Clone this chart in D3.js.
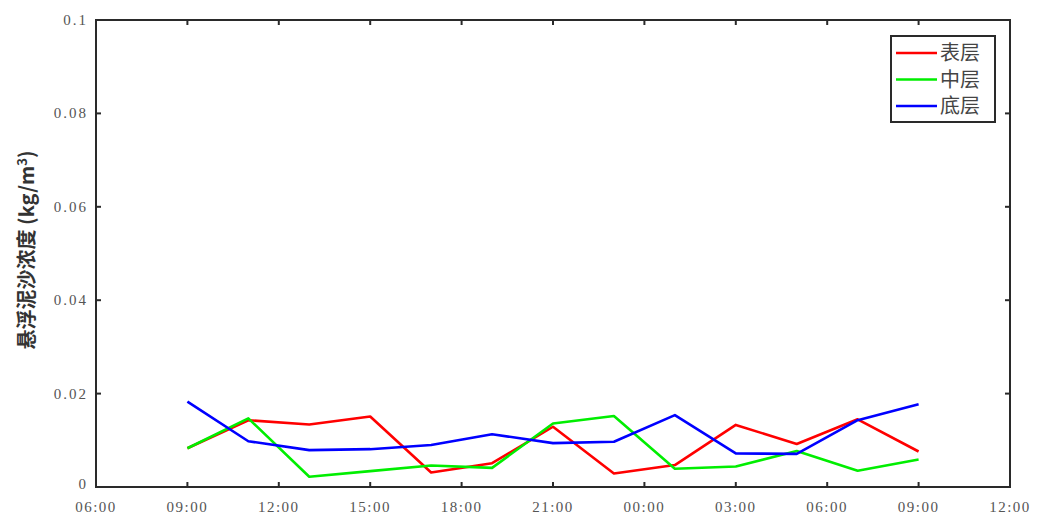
<!DOCTYPE html>
<html><head><meta charset="utf-8">
<script src="https://cdn.jsdelivr.net/npm/d3@7"></script>
<style>body{margin:0;background:#fff}svg{display:block}</style>
</head><body>
<svg id="c" width="1039" height="517"></svg>
<script>
// data (hours since 06:00 of day 1)
const hours = [3,5,7,9,11,13,15,17,19,21,23,25,27];
const surface = [0.0083,0.0143,0.0134,0.0151,0.0031,0.0051,0.0129,0.0029,0.0047,0.0133,0.0092,0.0145,0.0076];
const middle  = [0.0083,0.0147,0.0022,0.0034,0.0046,0.0041,0.0136,0.0152,0.0039,0.0044,0.0077,0.0035,0.0059];
const bottom  = [0.0183,0.0098,0.0079,0.0081,0.0090,0.0113,0.0094,0.0097,0.0154,0.0072,0.0071,0.0143,0.0177];
const xTicks = [0,3,6,9,12,15,18,21,24,27,30];
const xTickLabels = ["06:00","09:00","12:00","15:00","18:00","21:00","00:00","03:00","06:00","09:00","12:00"];
const yTicks = [0,0.02,0.04,0.06,0.08,0.1];
const yTickLabels = ["0","0.02","0.04","0.06","0.08","0.1"];
const seriesNames = ["表层","中层","底层"];
const seriesColors = ["#ff0000","#00ee00","#0000ff"];

const svg = d3.select("#c");
const L=96,R=1010,T=20,B=487;
const x = d3.scaleLinear().domain([0,30]).range([L,R]);
const y = d3.scaleLinear().domain([0,0.1]).range([B,T]);
const serif = "'Liberation Serif','DejaVu Serif',serif";
const tickLen = 5;

// lines
const line = d3.line().x((d,i)=>x(hours[i])).y(d=>y(d));
[surface,middle,bottom].forEach((s,k)=>{
  svg.append("path").attr("d",line(s)).attr("fill","none")
    .attr("stroke",seriesColors[k]).attr("stroke-width",2.6).attr("stroke-linejoin","round");
});

// frame
svg.append("rect").attr("x",L).attr("y",T).attr("width",R-L).attr("height",B-T)
  .attr("fill","none").attr("stroke","#2a2a2a").attr("stroke-width",2);

// x ticks (inward, bottom and top)
const gx = svg.append("g");
xTicks.forEach((t,i)=>{
  gx.append("line").attr("x1",x(t)).attr("x2",x(t)).attr("y1",B).attr("y2",B-tickLen).attr("stroke","#2a2a2a").attr("stroke-width",2);
  gx.append("line").attr("x1",x(t)).attr("x2",x(t)).attr("y1",T).attr("y2",T+tickLen).attr("stroke","#2a2a2a").attr("stroke-width",2);
  gx.append("text").attr("x",x(t)).attr("y",B+25).attr("text-anchor","middle")
    .attr("font-family",serif).attr("font-size",15).attr("letter-spacing",1.5).attr("fill","#555").text(xTickLabels[i]);
});
// y ticks
const gy = svg.append("g");
yTicks.forEach((t,i)=>{
  gy.append("line").attr("x1",L).attr("x2",L+tickLen).attr("y1",y(t)).attr("y2",y(t)).attr("stroke","#2a2a2a").attr("stroke-width",2);
  gy.append("line").attr("x1",R).attr("x2",R-tickLen).attr("y1",y(t)).attr("y2",y(t)).attr("stroke","#2a2a2a").attr("stroke-width",2);
  gy.append("text").attr("x",L-8).attr("y",y(t)+ (t===0? 2:5)).attr("text-anchor","end")
    .attr("font-family",serif).attr("font-size",15).attr("letter-spacing",2).attr("fill","#555").text(yTickLabels[i]);
});

// y label
const yl = svg.append("text").attr("transform","translate(34,250) rotate(-90)")
  .attr("text-anchor","middle").attr("font-family","'Noto Sans CJK SC',sans-serif")
  .attr("font-size",20).attr("font-weight","bold").attr("fill","#333");
yl.append("tspan").text("悬浮泥沙浓度 (kg/m");
yl.append("tspan").attr("dy",-7).attr("font-size",13).text("3");
yl.append("tspan").attr("dy",7).text(")");

// legend
const lg = svg.append("g");
lg.append("rect").attr("x",891).attr("y",36).attr("width",104).attr("height",86)
  .attr("fill","#fff").attr("stroke","#2a2a2a").attr("stroke-width",2);
seriesNames.forEach((n,k)=>{
  const yy = 53 + k*26.5;
  lg.append("line").attr("x1",896).attr("x2",937).attr("y1",yy).attr("y2",yy)
    .attr("stroke",seriesColors[k]).attr("stroke-width",2.6);
  lg.append("text").attr("x",940).attr("y",yy+7).attr("font-family","'Noto Sans CJK SC',sans-serif")
    .attr("font-size",20).attr("fill","#444").text(n);
});
</script>
</body></html>
